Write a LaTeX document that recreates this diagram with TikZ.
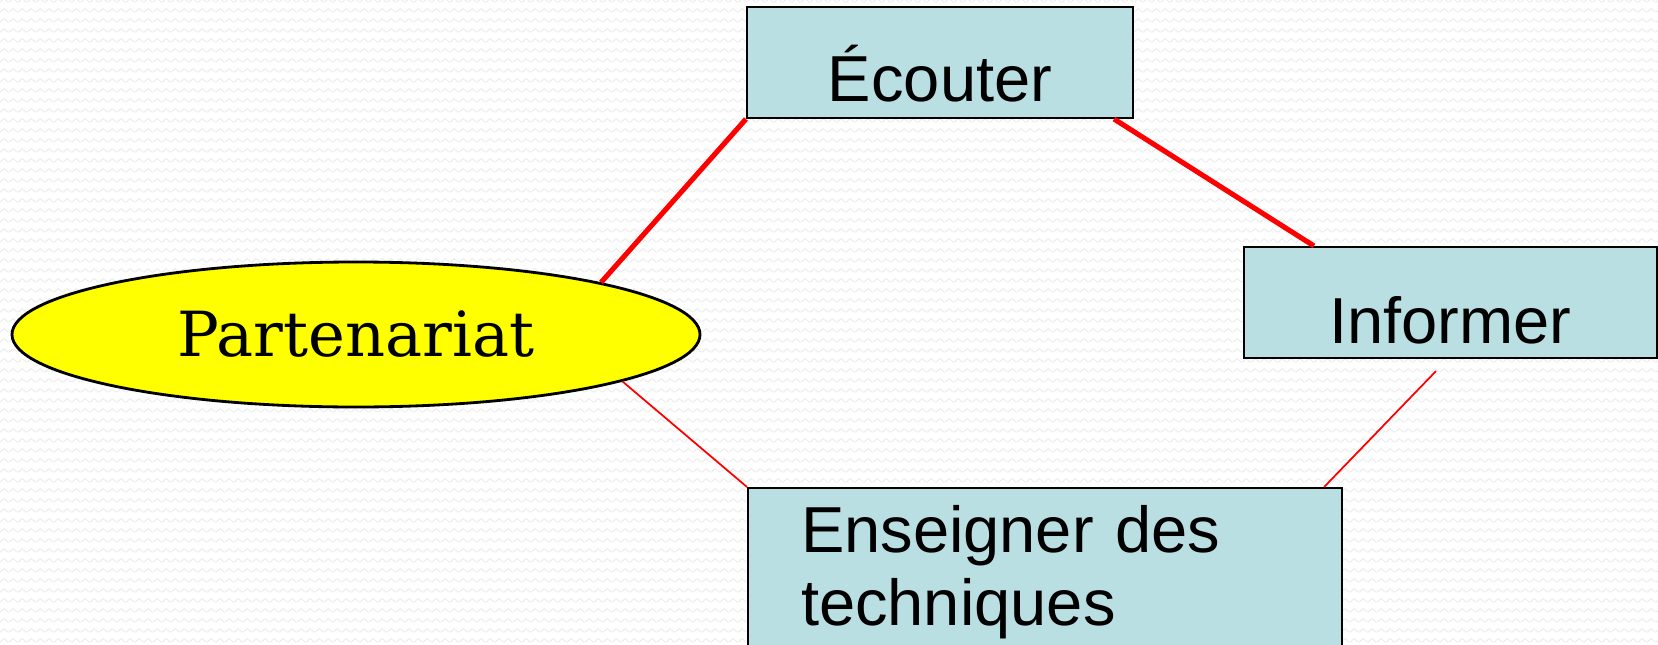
\documentclass[tikz,border=0pt]{standalone}
\usepackage{fontspec}
\setmainfont{Liberation Sans}
\newfontfamily\hubfont{DejaVu Serif}
\usepackage{tikz}
\usetikzlibrary{shapes.geometric,patterns}

\definecolor{boxblue}{HTML}{BADFE3}
\definecolor{hubyellow}{RGB}{255,255,0}

% faint wavy paper texture
\pgfdeclarepatternformonly{softwaves}{\pgfpointorigin}{\pgfpoint{0.087cm}{0.1cm}}{\pgfpoint{0.087cm}{0.1cm}}{
  \pgfsetlinewidth{0.3pt}
  \pgfpathmoveto{\pgfpoint{0cm}{0.03cm}}
  \pgfpathlineto{\pgfpoint{0.0435cm}{0.07cm}}
  \pgfpathlineto{\pgfpoint{0.087cm}{0.03cm}}
  \pgfusepath{stroke}
}

\begin{document}
\begin{tikzpicture}[
bluebox/.style={rectangle, draw=black, fill=boxblue, line width=0.6pt, inner sep=0pt, font=\fontsize{18.5}{21}\selectfont},
yellowellipse/.style={ellipse, draw=black, fill=hubyellow, line width=0.8pt, inner sep=0pt, minimum width=6.88cm, minimum height=1.45cm, font=\hubfont\fontsize{17.7}{20}\selectfont},
thick link/.style={draw=red, line width=1.45pt},
thin link/.style={draw=red, line width=0.5pt}
]
\useasboundingbox (0,0) rectangle (16.58,-6.44);
\fill[white] (0,0) rectangle (16.58,-6.44);
\fill[pattern=softwaves, pattern color=black!7] (0,0) rectangle (16.58,-6.44);

%Nodes
\node[bluebox, minimum width=3.86cm, text height=0.95cm, text depth=0.16cm] at (9.40,-0.625) (ecouter) {Écouter};
\node[bluebox, minimum width=4.13cm, text height=0.96cm, text depth=0.15cm] at (14.505,-3.025) (informer) {Informer};
\node[bluebox, anchor=north west, align=left, text width=4.88cm, inner xsep=0.53cm, inner ysep=0.17cm] at (7.47,-4.87) (enseigner) {Enseigner des\\techniques};
\node[yellowellipse] at (3.56,-3.345) (part) {Partenariat};

%Lines
\draw[thick link] (ecouter.south west) -- (part.12);
\draw[thick link] ([xshift=-2mm]ecouter.south east) -- ([xshift=7.1mm]informer.north west);
\draw[thin link] (part.-10.5) -- (enseigner.north west);
\draw[thin link] ([xshift=-1.45mm,yshift=-1.2mm]informer.south) -- ([xshift=-1.9mm]enseigner.north east);

\end{tikzpicture}
\end{document}
